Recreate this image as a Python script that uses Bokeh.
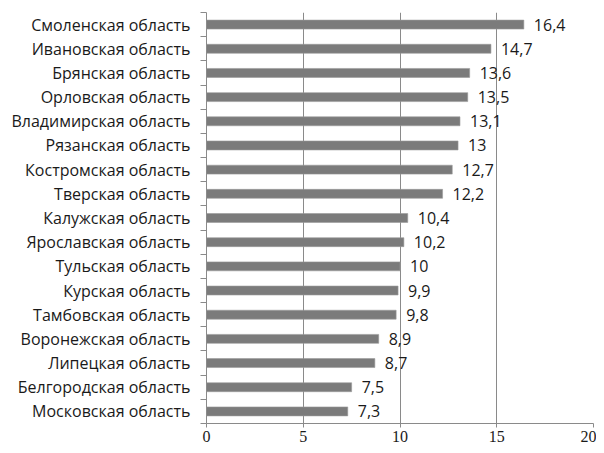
from bokeh.plotting import figure
from bokeh.models import FixedTicker, ColumnDataSource
from bokeh.core.properties import value
from bokeh.embed import file_html
from bokeh.resources import INLINE

# Data (top to bottom as in the chart)
regions = [
    "Смоленская область", "Ивановская область", "Брянская область",
    "Орловская область", "Владимирская область", "Рязанская область",
    "Костромская область", "Тверская область", "Калужская область",
    "Ярославская область", "Тульская область", "Курская область",
    "Тамбовская область", "Воронежская область", "Липецкая область",
    "Белгородская область", "Московская область",
]
values = [16.4, 14.7, 13.6, 13.5, 13.1, 13.0, 12.7, 12.2, 10.4,
          10.2, 10.0, 9.9, 9.8, 8.9, 8.7, 7.5, 7.3]
x_ticks = [0, 5, 10, 15, 20]

n = len(regions)
ypos = [n - i for i in range(n)]  # top item highest
labels = [("%g" % v).replace(".", ",") for v in values]

src = ColumnDataSource(dict(y=ypos, v=values, lab=labels, name=regions))

p = figure(width=596, height=445, x_range=(0, 20), y_range=(0.5, n + 0.5),
           output_backend="svg", toolbar_location=None,
           min_border_left=206, min_border_right=3, min_border_top=12,
           min_border_bottom=22)
p.outline_line_color = None
p.background_fill_color = "white"
p.border_fill_color = "white"

p.hbar(y="y", left=0, right="v", height=0.37, source=src,
       fill_color="#7b7b7b", line_color="#9a9a9a", line_width=0.6)

p.text(x="v", y="y", text="lab", source=src, x_offset=10,
       text_baseline="middle", text_align="left",
       text_font=value("Open Sans"), text_font_size="16px", text_color="#1a1a1a")

# grid
p.ygrid.grid_line_color = None
p.xgrid.ticker = FixedTicker(ticks=x_ticks)
p.xgrid.grid_line_color = "#8a8a8a"
p.xgrid.grid_line_width = 1

# x axis
xa = p.xaxis[0]
xa.ticker = FixedTicker(ticks=x_ticks)
xa.axis_line_color = "#8a8a8a"
xa.major_tick_line_color = "#8a8a8a"
xa.major_tick_out = 4
xa.major_tick_in = 0
xa.minor_tick_line_color = None
xa.major_label_text_font = "Liberation Serif"
xa.major_label_text_font_size = "16px"
xa.major_label_text_color = "#1a1a1a"
xa.major_label_standoff = 3

# y axis
ya = p.yaxis[0]
ya.ticker = FixedTicker(ticks=ypos, minor_ticks=[k + 0.5 for k in range(n + 1)])
ya.major_label_overrides = {y: name for y, name in zip(ypos, regions)}
ya.axis_line_color = "#8a8a8a"
ya.major_tick_line_color = None
ya.minor_tick_line_color = "#8a8a8a"
ya.minor_tick_out = 6
ya.minor_tick_in = 0
ya.major_label_text_font = "Open Sans"
ya.major_label_text_font_size = "16px"
ya.major_label_text_color = "#1a1a1a"
ya.major_label_standoff = 10

open("out.html", "w").write(file_html(p, INLINE))
